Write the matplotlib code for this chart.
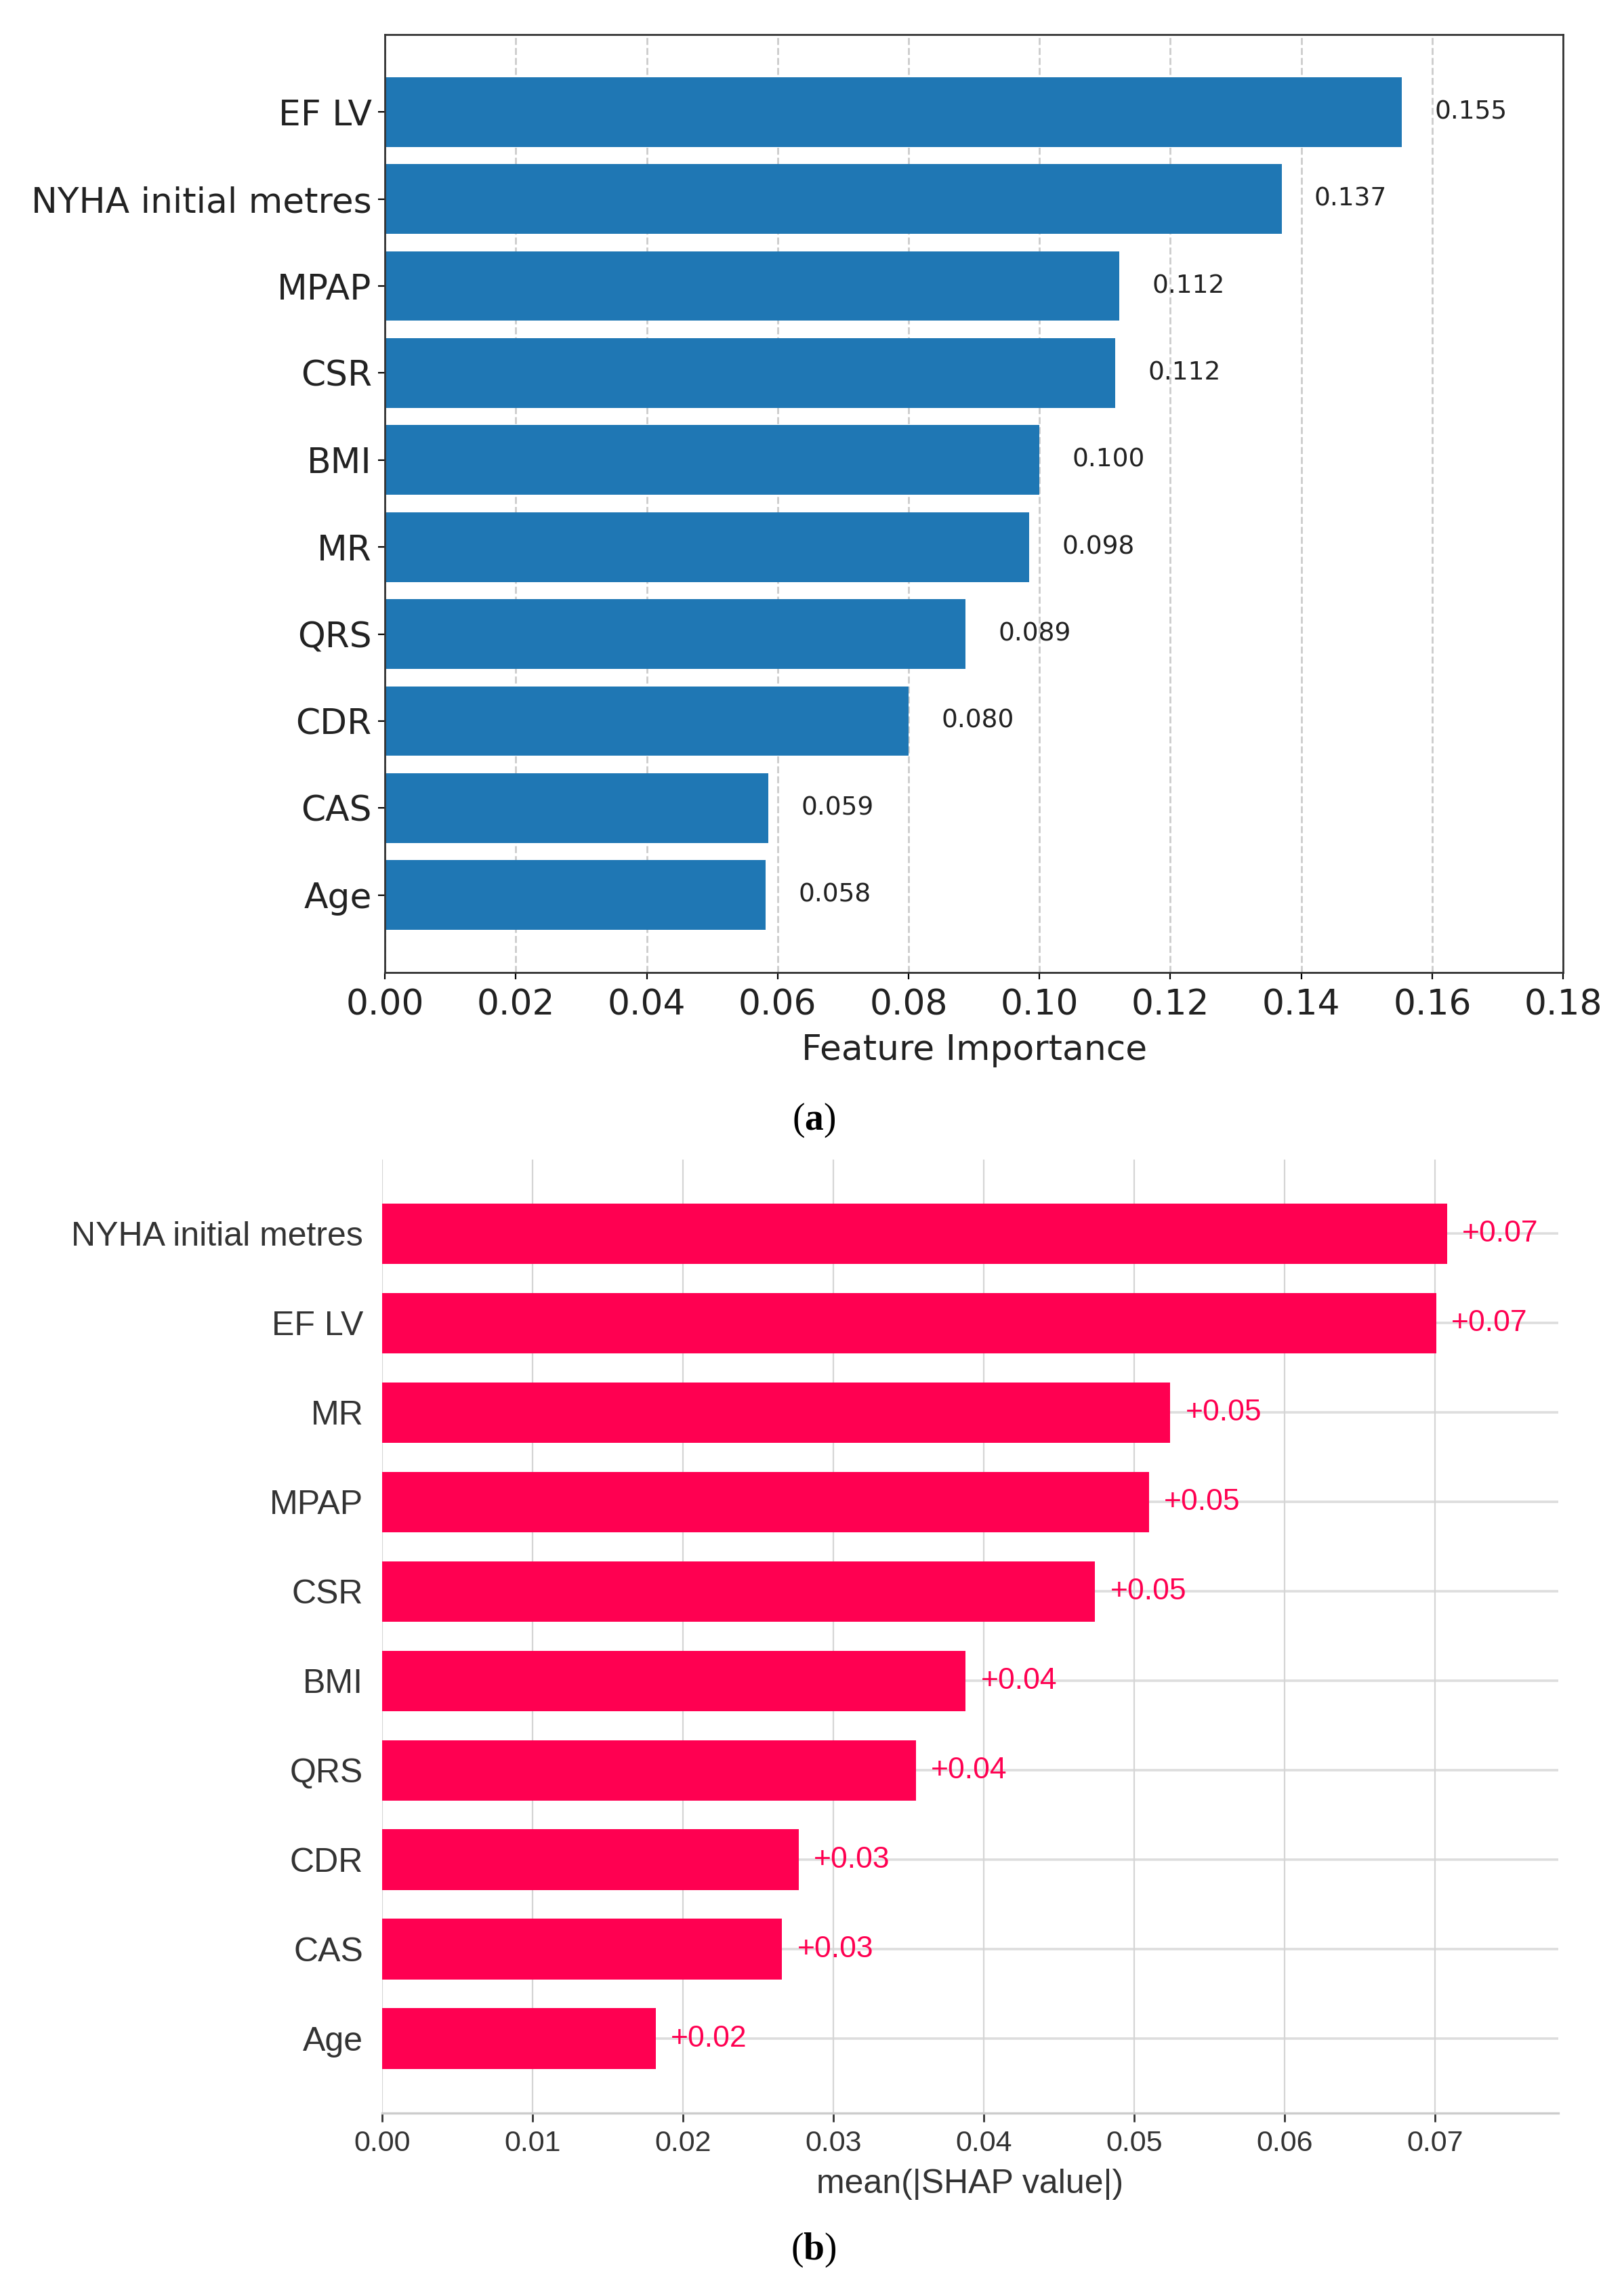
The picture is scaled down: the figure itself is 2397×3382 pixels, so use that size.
import numpy as np
import matplotlib
matplotlib.use("Agg")
import matplotlib.pyplot as plt

plt.rcParams['mathtext.fontset'] = 'custom'
plt.rcParams['mathtext.rm'] = 'Liberation Serif'
plt.rcParams['mathtext.bf'] = 'Liberation Serif:bold'

# (a) model feature importance, top to bottom
fi_features = ['EF LV', 'NYHA initial metres', 'MPAP', 'CSR', 'BMI',
               'MR', 'QRS', 'CDR', 'CAS', 'Age']
fi_values = [0.1554, 0.1370, 0.1122, 0.1116, 0.1000,
             0.0984, 0.0887, 0.0800, 0.0586, 0.0582]
fi_ticks = [0.00, 0.02, 0.04, 0.06, 0.08, 0.10, 0.12, 0.14, 0.16, 0.18]

# (b) mean |SHAP| values, top to bottom
shap_features = ['NYHA initial metres', 'EF LV', 'MR', 'MPAP', 'CSR',
                 'BMI', 'QRS', 'CDR', 'CAS', 'Age']
shap_values = [0.0708, 0.0701, 0.0524, 0.0510, 0.0474,
               0.0388, 0.0355, 0.0277, 0.0266, 0.0182]
shap_ticks = [0.00, 0.01, 0.02, 0.03, 0.04, 0.05, 0.06, 0.07]

fig = plt.figure(figsize=(11.985, 16.91), dpi=200)

# ---- panel (a)
ax1 = fig.add_axes([0.2370, 0.5757, 0.7255, 0.4092])
ypos = np.arange(len(fi_features))[::-1]
ax1.barh(ypos, fi_values, height=0.8, color='#1f77b4', zorder=2)
for y, v in zip(ypos, fi_values):
    ax1.text(v + 0.005, y, f"{v:.3f}", va='center', ha='left', fontsize=13.5,
             family='DejaVu Sans', color='#222222', zorder=3)
ax1.set_yticks(ypos)
ax1.set_yticklabels(fi_features, fontsize=18.7, color='#222222')
ax1.set_xticks(fi_ticks)
ax1.set_xticklabels([f"{t:.2f}" for t in fi_ticks], fontsize=18.7,
                    color='#222222')
ax1.tick_params(axis='x', pad=5)
ax1.set_xlim(0, 0.18)
ax1.set_xlabel('Feature Importance', fontsize=18.7, color='#222222',
               labelpad=6)
ax1.grid(axis='x', linestyle='--', color='#cccccc', linewidth=1.0, zorder=0)
ax1.set_axisbelow(True)
for s in ax1.spines.values():
    s.set_linewidth(1.0)
    s.set_color('#333333')

# ---- panel (b) shap style
red = '#ff0051'
ax2 = fig.add_axes([0.2353, 0.0781, 0.7242, 0.4160])
ypos2 = np.arange(len(shap_features))[::-1]
ax2.set_xlim(0, 0.0782)
ax2.set_ylim(-0.83, len(shap_features) - 1 + 0.83)
ax2.hlines(ypos2, 0, 0.0782, color='#dddddd', linewidth=1.3, zorder=0)
ax2.barh(ypos2, shap_values, height=0.68, color=red, zorder=2)
for y, v in zip(ypos2, shap_values):
    ax2.annotate(f"+{v:.2f}", (v, y), xytext=(8, 0), textcoords='offset points',
                 va='center', ha='left', fontsize=16, color=red,
                 family='Liberation Sans', zorder=3)
ax2.set_yticks(ypos2)
ax2.set_yticklabels(shap_features, fontsize=18, family='Liberation Sans',
                    color='#333333')
ax2.set_xticks(shap_ticks)
ax2.set_xticklabels([f"{t:.2f}" for t in shap_ticks], fontsize=15.5,
                    family='Liberation Sans', color='#333333')
ax2.tick_params(axis='y', length=0, pad=10)
ax2.tick_params(axis='x', length=4.5, width=1.0, color='#333333', pad=4.5)
ax2.set_xlabel('mean(|SHAP value|)', fontsize=18, family='Liberation Sans',
               color='#333333', labelpad=6)
ax2.grid(axis='x', color='#d5d5d5', linewidth=0.8, zorder=0)
ax2.set_axisbelow(True)
for side in ['top', 'right', 'left']:
    ax2.spines[side].set_visible(False)
ax2.spines['bottom'].set_color('#cccccc')
ax2.spines['bottom'].set_linewidth(1.2)

# captions
fig.text(0.501, 1 - 1653 / 3382, r'($\mathbf{a}$)', ha='center', va='center',
         fontsize=20, family='Liberation Serif')
fig.text(0.501, 1 - 3320 / 3382, r'($\mathbf{b}$)', ha='center', va='center',
         fontsize=20, family='Liberation Serif')

fig.savefig('out.png', dpi=200, facecolor='white')
